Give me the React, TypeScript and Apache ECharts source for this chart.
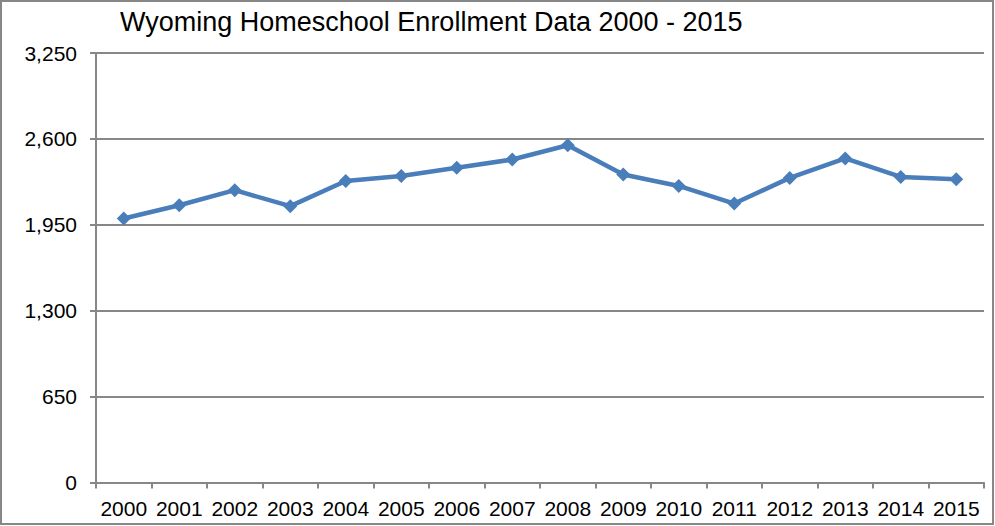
import React, { useEffect, useRef } from "react";
import * as echarts from "echarts";

const years = ["2000","2001","2002","2003","2004","2005","2006","2007","2008","2009","2010","2011","2012","2013","2014","2015"];
const enrollment = [1998, 2098, 2212, 2091, 2282, 2320, 2381, 2444, 2552, 2331, 2244, 2111, 2305, 2452, 2312, 2295];
const yTicks = { min: 0, max: 3250, interval: 650 };
const title = "Wyoming Homeschool Enrollment Data 2000 - 2015";

export default function App() {
  const ref = useRef<HTMLDivElement>(null);
  useEffect(() => {
    document.body.style.margin = "0";
    const chart = echarts.init(ref.current!, null, { renderer: "svg" });
    const gray = "#878787";
    const font = "Liberation Sans, Arial, sans-serif";
    chart.setOption({
      animation: false,
      backgroundColor: "#fff",
      textStyle: { fontFamily: font },
      title: {
        text: title,
        left: 115,
        top: 3,
        textStyle: { fontSize: 27, fontWeight: "normal", color: "#000", fontFamily: font },
      },
      graphic: [
        {
          type: "rect",
          shape: { x: 1, y: 1, width: 992, height: 523 },
          style: { fill: "none", stroke: gray, lineWidth: 2 },
          silent: true,
        },
      ],
      grid: { left: 96, right: 11, top: 53, bottom: 43.5 },
      xAxis: {
        type: "category",
        data: years,
        boundaryGap: true,
        axisLine: { lineStyle: { color: gray, width: 2 } },
        axisTick: { show: true, interval: 0, alignWithLabel: false, length: 6, lineStyle: { color: gray, width: 2 } },
        axisLabel: { color: "#000", fontSize: 21, margin: 15, interval: 0, hideOverlap: false, fontFamily: font },
        splitLine: { show: false },
      },
      yAxis: {
        type: "value",
        min: yTicks.min,
        max: yTicks.max,
        interval: yTicks.interval,
        axisLine: { show: true, lineStyle: { color: gray, width: 2 } },
        axisTick: { show: true, length: 6, lineStyle: { color: gray, width: 2 } },
        axisLabel: {
          color: "#000",
          fontSize: 21,
          margin: 19,
          fontFamily: font,
          formatter: (v: number) => v.toLocaleString("en-US"),
        },
        splitLine: { show: true, lineStyle: { color: gray, width: 2 } },
      },
      series: [
        {
          type: "line",
          data: enrollment,
          symbol: "diamond",
          symbolSize: 14,
          lineStyle: { color: "#4a7ebb", width: 4.5 },
          itemStyle: { color: "#4a7ebb" },
        },
      ],
    });
    return () => chart.dispose();
  }, []);
  return <div ref={ref} style={{ width: 995, height: 526 }} />;
}
